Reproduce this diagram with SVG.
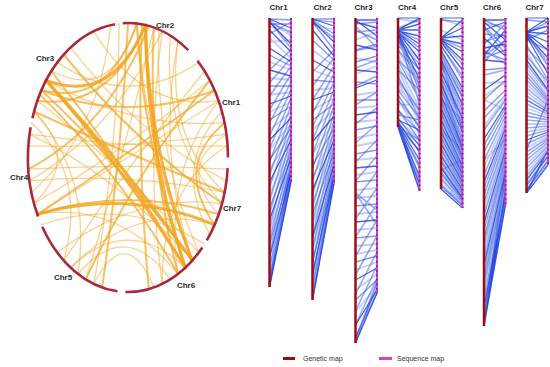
<svg xmlns="http://www.w3.org/2000/svg" width="550" height="367" viewBox="0 0 550 367">
<style>
text{font-family:"Liberation Sans",Arial,sans-serif;font-weight:bold;fill:#2a2a2a}
.lab{font-size:8px;text-anchor:middle}
.leg{font-size:7px;font-weight:normal;fill:#333}
.arc{fill:none;stroke:#a8283c;stroke-width:2.6}
.ck,.cm,.cl{fill:none;stroke:#f2a522;stroke-linecap:round}
.ck{stroke-width:3;stroke-opacity:.85}
.cm{stroke-width:2;stroke-opacity:.7}
.cl{stroke-width:1.3;stroke-opacity:.5}
.bd,.bm,.bl,.bx{fill:none}
.bd{stroke:#1a3cd8;stroke-opacity:.8;stroke-width:1.3}
.bm{stroke:#2448de;stroke-opacity:.55;stroke-width:1.4}
.bl{stroke:#4f72ee;stroke-opacity:.35;stroke-width:1.8}
.bx{stroke:#3158e6;stroke-opacity:.5;stroke-width:1.6}
.gm{stroke:#9e0d0d;stroke-width:2.5}
.sm{stroke:#e23ad0;stroke-width:2}
.sd{stroke:#7a2596;stroke-width:2;stroke-dasharray:1.5 3}
</style>
<rect width="550" height="367" fill="#ffffff"/>

<!-- Circos plot -->
<g id="connectors">
<path class="cl" d="M37.4 100.7Q123 167.1 198.7 252.6"/>
<path class="cl" d="M136.7 23.5Q146.3 149.8 192.3 260.5"/>
<path class="cl" d="M51.4 71Q111 102.4 136.7 23.5"/>
<path class="cl" d="M46.1 80.4Q131.7 129.5 224.6 122.7"/>
<path class="cl" d="M37.4 214.3Q128 157.5 218.6 100.7"/>
<path class="cl" d="M37.4 214.3Q117.9 200.8 178 274"/>
<path class="cl" d="M226.5 134.2Q175.3 165.9 218.6 214.3"/>
<path class="cl" d="M222 111.5Q172 165.3 209.9 234.6"/>
<path class="cl" d="M119.3 23.5Q117.3 155.6 93.8 283.9"/>
<path class="cl" d="M153.9 27.6Q123.9 155.5 85.7 279.4"/>
<path class="cl" d="M162.2 31.1Q111.9 131.7 29.5 180.8"/>
<path class="cl" d="M170.3 35.6Q162.1 138.5 222 203.5"/>
<path class="cl" d="M178 41Q164.7 137.1 224.6 192.3"/>
<path class="cl" d="M70.6 47.3Q138.3 135.8 226.5 180.8"/>
<path class="cl" d="M34 111.5Q92 175.1 78 274"/>
<path class="cl" d="M31.4 122.7Q87.8 174.6 63.7 260.5"/>
<path class="cl" d="M28.4 145.8Q127.7 148.75 226.5 134.2"/>
<path class="cl" d="M29.5 134.2Q128.3 148.75 227.6 145.8"/>
<path class="cl" d="M28.4 169.2Q128 163.4 227.6 169.2"/>
<path class="cl" d="M78 274Q126.1 217.1 170.3 279.4"/>
<path class="cl" d="M93.8 283.9Q125.9 221.6 153.9 287.4"/>
<path class="cl" d="M70.6 267.7Q128 212.6 185.4 267.7"/>
<path class="cl" d="M63.7 260.5Q131.1 161.6 204.6 71"/>
<path class="cl" d="M162.2 283.9Q145.1 157.5 162.2 31.1"/>
<path class="cl" d="M31.4 192.3Q99.5 133.1 110.6 25"/>
<path class="cl" d="M218.6 100.7Q163.2 172.4 178 274"/>
<path class="cl" d="M227.6 145.8Q161.5 186.2 162.2 283.9"/>
<path class="cl" d="M34 111.5Q81 157.5 34 203.5"/>
<path class="cl" d="M214.6 224.8Q135.3 201.9 70.6 267.7"/>
<path class="cl" d="M222 203.5Q133.8 192.8 57.3 252.6"/>
<path class="cl" d="M158.9 29.6Q153.4 149.3 198.7 252.6"/>
<path class="cl" d="M178 41Q156.6 154.1 192.3 260.5"/>
<path class="cl" d="M209.9 80.4Q125 149.7 34 203.5"/>
<path class="cl" d="M57.3 62.4Q128 110 198.7 62.4"/>
<path class="cl" d="M93.8 31.1Q142.1 111.7 218.6 100.7"/>
<path class="cl" d="M29.5 180.8Q127.5 172 224.6 192.3"/>
<path class="cl" d="M41.4 224.8Q125.5 195.9 204.6 244"/>
<path class="cl" d="M29.5 134.2Q119.5 177.4 192.3 260.5"/>
<path class="cm" d="M41.4 90.3Q122.4 166.5 192.3 260.5"/>
<path class="cm" d="M51.4 71Q123.2 163.4 185.4 267.7"/>
<path class="cm" d="M136.7 23.5Q144.5 151.6 185.4 267.7"/>
<path class="cm" d="M153.9 27.6Q147 154.2 178 274"/>
<path class="cm" d="M41.4 90.3Q108.5 107.2 136.7 23.5"/>
<path class="cm" d="M37.4 100.7Q109.7 110.2 145.4 25"/>
<path class="cm" d="M41.4 90.3Q128 123.9 214.6 90.3"/>
<path class="cm" d="M37.4 214.3Q128 185.9 218.6 214.3"/>
<path class="cm" d="M37.4 214.3Q127 154.9 214.6 90.3"/>
<path class="cm" d="M224.6 122.7Q173.8 165.6 214.6 224.8"/>
<path class="cm" d="M128 23Q121.5 156.4 102.1 287.4"/>
<path class="cm" d="M148.8 25.9Q108.3 127.5 28.4 169.2"/>
<path class="cm" d="M63.7 54.5Q135.4 143.3 222 203.5"/>
<path class="cm" d="M85.7 279.4Q137.9 168.7 209.9 80.4"/>
<path class="cm" d="M39.7 94.4Q118.4 170.9 178 274"/>
<path class="cm" d="M141.9 24.3Q136.7 157.1 148.8 289.1"/>
<path class="cm" d="M34 111.5Q128.7 154.7 224.6 192.3"/>
<path class="ck" d="M46.1 80.4Q123.6 164 192.3 260.5"/>
<path class="ck" d="M46.1 80.4Q121.9 165.8 185.4 267.7"/>
<path class="ck" d="M145.4 25Q146.7 151.9 185.4 267.7"/>
<path class="ck" d="M145.4 25Q148.4 150.1 192.3 260.5"/>
<path class="ck" d="M46.1 80.4Q111.9 105.1 145.4 25"/>
<path class="ck" d="M37.4 214.3Q127 188.5 214.6 224.8"/>
</g>

<g id="chr2-circ"><path class="arc" d="M122.8 23.2A100 134.5 0 0 1 188.2 50.1"/><text class="lab" x="165" y="28">Chr2</text></g>
<g id="chr1-circ"><path class="arc" d="M197.5 60.7A100 134.5 0 0 1 228 157.5"/><text class="lab" x="231" y="105">Chr1</text></g>
<g id="chr7-circ"><path class="arc" d="M227.7 168.1A100 134.5 0 0 1 206.8 240.3"/><text class="lab" x="232" y="211">Chr7</text></g>
<g id="chr6-circ"><path class="arc" d="M202.3 247.5A100 134.5 0 0 1 125.4 292"/><text class="lab" x="186" y="288">Chr6</text></g>
<g id="chr5-circ"><path class="arc" d="M117.5 291.3A100 134.5 0 0 1 42.3 226.8"/><text class="lab" x="63" y="280">Chr5</text></g>
<g id="chr4-circ"><path class="arc" d="M38.1 216.5A100 134.5 0 0 1 30.6 127.2"/><text class="lab" x="19" y="180">Chr4</text></g>
<g id="chr3-circ"><path class="arc" d="M32.4 118.2A100 134.5 0 0 1 115 24.2"/><text class="lab" x="45" y="61">Chr3</text></g>

<!-- Linkage maps -->
<g id="map-chr1" transform="translate(269.5 0)">
<path class="bl" d="M0 20L21.5 36M0 26L21.5 33M0 38L21.5 58M0 42L21.5 40M0 62L21.5 70M0 78L21.5 80M0 95L21.5 92M0 112L21.5 102M0 130L21.5 112M0 150L21.5 124M0 170L21.5 134M0 195L21.5 146M0 232L21.5 164M0 270L21.5 176M0 285L21.5 160"/>
<path class="bx" d="M0 70L21.5 50M0 83L21.5 58M0 96L21.5 66M0 110L21.5 74M0 123L21.5 82M0 136L21.5 90M0 149L21.5 98M0 162L21.5 106M0 175L21.5 114M0 188L21.5 122M0 201L21.5 130M0 214L21.5 138M0 228L21.5 146M0 241L21.5 154M0 254L21.5 162M0 267L21.5 170M0 277L21.5 176M0 283L21.5 180M0 21L21.5 48M0 23L21.5 32"/>
<path class="bm" d="M0 19L21.5 20M0 24L21.5 24M0 34L21.5 22M0 55L21.5 66M0 86L21.5 86M0 120L21.5 106M0 160L21.5 128M0 208L21.5 152M0 245L21.5 168M0 280L21.5 180M0 287L21.5 170"/>
<path class="bd" d="M0 19L21.5 28M0 22L21.5 44M0 30L21.5 52M0 48L21.5 62M0 70L21.5 76M0 104L21.5 96M0 140L21.5 118M0 182L21.5 140M0 220L21.5 158M0 258L21.5 172M0 287L21.5 182"/>
<line class="gm" x1="0" y1="18" x2="0" y2="287"/>
<line class="sm" x1="21.5" y1="18" x2="21.5" y2="182"/><line class="sd" x1="21.5" y1="18" x2="21.5" y2="182"/>
<text class="lab" x="9" y="10">Chr1</text>
</g>
<g id="map-chr2" transform="translate(312.5 0)">
<path class="bl" d="M0 24L21.5 30M0 50L21.5 66M0 70L21.5 78M0 90L21.5 88M0 110L21.5 98M0 130L21.5 110M0 154L21.5 122M0 178L21.5 134M0 202L21.5 146M0 226L21.5 158M0 250L21.5 168M0 286L21.5 180"/>
<path class="bx" d="M0 72L21.5 50M0 86L21.5 58M0 100L21.5 66M0 113L21.5 74M0 127L21.5 82M0 140L21.5 90M0 154L21.5 98M0 168L21.5 106M0 181L21.5 114M0 195L21.5 122M0 208L21.5 130M0 222L21.5 138M0 236L21.5 146M0 249L21.5 154M0 263L21.5 162M0 276L21.5 170M0 286L21.5 176M0 295L21.5 181M0 20L21.5 22M0 22L21.5 38"/>
<path class="bm" d="M0 19L21.5 19M0 20L21.5 34M0 22L21.5 50M0 40L21.5 60M0 80L21.5 82M0 120L21.5 104M0 166L21.5 128M0 214L21.5 152M0 262L21.5 172M0 300L21.5 178"/>
<path class="bd" d="M0 19L21.5 26M0 21L21.5 42M0 30L21.5 56M0 60L21.5 72M0 100L21.5 92M0 142L21.5 116M0 190L21.5 140M0 238L21.5 164M0 274L21.5 176M0 300L21.5 184"/>
<line class="gm" x1="0" y1="18" x2="0" y2="300"/>
<line class="sm" x1="21.5" y1="18" x2="21.5" y2="184"/><line class="sd" x1="21.5" y1="18" x2="21.5" y2="184"/>
<text class="lab" x="10" y="10">Chr2</text>
</g>
<g id="map-chr3" transform="translate(355.5 0)">
<path class="bl" d="M0 40L21.5 32M0 58L21.5 62M0 74L21.5 66M0 95L21.5 92M0 108L21.5 106M0 122L21.5 120M0 138L21.5 134M0 146L21.5 142M0 160L21.5 158M0 175L21.5 172M0 190L21.5 188M0 198L21.5 196M0 214L21.5 212M0 230L21.5 228M0 246L21.5 244M0 254L21.5 250M0 270L21.5 262M0 290L21.5 274M0 312L21.5 286M0 340L21.5 280"/>
<path class="bx" d="M0 32L21.5 30M0 51L21.5 46M0 68L21.5 60M0 86L21.5 76M0 105L21.5 92M0 124L21.5 108M0 143L21.5 124M0 162L21.5 140M0 181L21.5 156M0 200L21.5 172M0 219L21.5 188M0 237L21.5 204M0 256L21.5 220M0 275L21.5 236M0 294L21.5 252M0 311L21.5 266M0 325L21.5 278M0 337L21.5 288M0 193L21.5 210M0 193L21.5 225M0 26L21.5 48"/>
<path class="bm" d="M0 24L21.5 22M0 30L21.5 40M0 50L21.5 44M0 62L21.5 56M0 82L21.5 84M0 100L21.5 100M0 130L21.5 126M0 154L21.5 150M0 182L21.5 180M0 206L21.5 204M0 238L21.5 236M0 262L21.5 256M0 300L21.5 280M0 338L21.5 293M0 343L21.5 282"/>
<path class="bd" d="M0 20L21.5 20M0 22L21.5 28M0 20L21.5 36M0 45L21.5 50M0 70L21.5 72M0 88L21.5 80M0 115L21.5 112M0 168L21.5 166M0 222L21.5 220M0 280L21.5 268M0 325L21.5 290M0 343L21.5 293"/>
<line class="gm" x1="0" y1="18" x2="0" y2="343"/>
<line class="sm" x1="21.5" y1="18" x2="21.5" y2="293"/><line class="sd" x1="21.5" y1="18" x2="21.5" y2="293"/>
<text class="lab" x="8" y="10">Chr3</text>
</g>
<g id="map-chr4" transform="translate(398 0)">
<path class="bl" d="M0 19L21.5 22M0 40L21.5 60M0 50L21.5 86M0 55L21.5 96M0 65L21.5 108M0 70L21.5 114M0 82L21.5 122M0 88L21.5 110M0 100L21.5 134M0 105L21.5 104M0 120L21.5 140"/>
<path class="bx" d="M0 127L21.5 140M0 127L21.5 150M0 126L21.5 165M0 125L21.5 180M0 127L21.5 188M0 124L21.5 145M0 80L21.5 110M0 90L21.5 118M0 100L21.5 126M0 110L21.5 132M0 60L21.5 80M0 70L21.5 90M0 50L21.5 75M0 42L21.5 64M0 31L21.5 40M0 31L21.5 48M0 34L21.5 86"/>
<path class="bm" d="M0 18L21.5 18M0 28L21.5 20M0 35L21.5 92M0 36L21.5 104M0 45L21.5 70M0 60L21.5 100M0 76L21.5 118M0 95L21.5 128M0 110L21.5 140M0 118L21.5 146M0 125L21.5 168M0 115L21.5 120"/>
<path class="bd" d="M0 30L21.5 18M0 30L21.5 24M0 30L21.5 30M0 31L21.5 36M0 30L21.5 44M0 32L21.5 52M0 32L21.5 60M0 33L21.5 70M0 34L21.5 80M0 120L21.5 130M0 122L21.5 152M0 124L21.5 160M0 126L21.5 176M0 127L21.5 191M0 127L21.5 184"/>
<line class="gm" x1="0" y1="18" x2="0" y2="127"/>
<line class="sm" x1="21.5" y1="18" x2="21.5" y2="191"/><line class="sd" x1="21.5" y1="18" x2="21.5" y2="191"/>
<text class="lab" x="9" y="10">Chr4</text>
</g>
<g id="map-chr5" transform="translate(441 0)">
<path class="bl" d="M0 19L21.5 26M0 80L21.5 150M0 170L21.5 160M0 180L21.5 204M0 189L21.5 200M0 100L21.5 120M0 130L21.5 150M0 30L21.5 40"/>
<path class="bx" d="M0 46L21.5 76M0 52L21.5 92M0 58L21.5 98M0 64L21.5 106M0 70L21.5 114M0 76L21.5 120M0 82L21.5 128M0 88L21.5 136M0 94L21.5 142M0 100L21.5 148M0 106L21.5 152M0 112L21.5 158M0 118L21.5 162M0 124L21.5 168M0 130L21.5 172M0 136L21.5 176M0 142L21.5 180M0 148L21.5 184M0 154L21.5 188M0 160L21.5 192M0 166L21.5 196M0 172L21.5 199M0 178L21.5 202M0 184L21.5 205M0 39L21.5 48M0 41L21.5 64"/>
<path class="bm" d="M0 18L21.5 18M0 20L21.5 22M0 45L21.5 80M0 55L21.5 96M0 66L21.5 110M0 78L21.5 124M0 90L21.5 140M0 102L21.5 150M0 114L21.5 160M0 126L21.5 170M0 138L21.5 178M0 150L21.5 186M0 162L21.5 194M0 174L21.5 200M0 186L21.5 206M0 60L21.5 130"/>
<path class="bd" d="M0 38L21.5 20M0 38L21.5 28M0 38L21.5 36M0 39L21.5 44M0 40L21.5 52M0 40L21.5 60M0 42L21.5 70M0 50L21.5 88M0 60L21.5 104M0 72L21.5 118M0 84L21.5 132M0 96L21.5 146M0 108L21.5 156M0 120L21.5 166M0 132L21.5 174M0 144L21.5 182M0 156L21.5 190M0 168L21.5 198M0 189L21.5 208"/>
<line class="gm" x1="0" y1="18" x2="0" y2="189"/>
<line class="sm" x1="21.5" y1="18" x2="21.5" y2="208"/><line class="sd" x1="21.5" y1="18" x2="21.5" y2="208"/>
<text class="lab" x="8" y="10">Chr5</text>
</g>
<g id="map-chr6" transform="translate(484 0)">
<path class="bl" d="M0 24L21.5 26M0 50L21.5 64M0 83L21.5 82M0 96L21.5 82M0 126L21.5 98M0 167L21.5 120M0 208L21.5 142M0 251L21.5 165M0 294L21.5 188M0 326L21.5 180M0 100L21.5 110M0 160L21.5 140"/>
<path class="bx" d="M0 75L21.5 70M0 100L21.5 80M0 118L21.5 95M0 130L21.5 100M0 145L21.5 108M0 160L21.5 116M0 175L21.5 124M0 188L21.5 132M0 202L21.5 140M0 215L21.5 146M0 230L21.5 154M0 244L21.5 162M0 258L21.5 168M0 272L21.5 176M0 286L21.5 184M0 300L21.5 192M0 312L21.5 198M0 322L21.5 202M0 28L21.5 54M0 42L21.5 34M0 56L21.5 40"/>
<path class="bm" d="M0 20L21.5 30M0 26L21.5 48M0 34L21.5 36M0 44L21.5 24M0 52L21.5 60M0 58L21.5 50M0 62L21.5 40M0 70L21.5 68M0 111L21.5 90M0 152L21.5 112M0 195L21.5 135M0 238L21.5 158M0 279L21.5 180M0 317L21.5 200M0 320L21.5 170"/>
<path class="bd" d="M0 20L21.5 20M0 22L21.5 40M0 30L21.5 22M0 38L21.5 56M0 48L21.5 44M0 55L21.5 30M0 60L21.5 62M0 90L21.5 75M0 139L21.5 105M0 182L21.5 128M0 223L21.5 150M0 265L21.5 172M0 307L21.5 195M0 326L21.5 205M0 326L21.5 190"/>
<line class="gm" x1="0" y1="18" x2="0" y2="326"/>
<line class="sm" x1="21.5" y1="18" x2="21.5" y2="205"/><line class="sd" x1="21.5" y1="18" x2="21.5" y2="205"/>
<text class="lab" x="8" y="10">Chr6</text>
</g>
<g id="map-chr7" transform="translate(526.5 0)">
<path class="bl" d="M0 52L21.5 86M0 68L21.5 96M0 84L21.5 104M0 92L21.5 108M0 108L21.5 116M0 124L21.5 124M0 132L21.5 128M0 148L21.5 136M0 164L21.5 144M0 172L21.5 148"/>
<path class="bx" d="M0 40L21.5 50M0 48L21.5 70M0 56L21.5 82M0 64L21.5 92M0 72L21.5 98M0 80L21.5 102M0 88L21.5 106M0 96L21.5 110M0 104L21.5 114M0 112L21.5 118M0 120L21.5 122M0 128L21.5 126M0 136L21.5 130M0 144L21.5 134M0 152L21.5 138M0 160L21.5 142M0 168L21.5 146M0 176L21.5 150M0 184L21.5 156M0 190L21.5 162M0 33L21.5 22M0 35L21.5 62"/>
<path class="bm" d="M0 18L21.5 18M0 20L21.5 22M0 34L21.5 66M0 40L21.5 30M0 45L21.5 80M0 76L21.5 100M0 116L21.5 120M0 156L21.5 140M0 186L21.5 156M0 190L21.5 160M0 150L21.5 100"/>
<path class="bd" d="M0 32L21.5 18M0 32L21.5 26M0 32L21.5 34M0 33L21.5 42M0 33L21.5 50M0 34L21.5 58M0 36L21.5 74M0 60L21.5 90M0 100L21.5 112M0 140L21.5 132M0 180L21.5 152M0 193L21.5 165M0 193L21.5 150"/>
<line class="gm" x1="0" y1="18" x2="0" y2="193"/>
<line class="sm" x1="21.5" y1="18" x2="21.5" y2="165"/><line class="sd" x1="21.5" y1="18" x2="21.5" y2="165"/>
<text class="lab" x="8" y="10">Chr7</text>
</g>

<g id="legend">
<line x1="283" y1="358.5" x2="295" y2="358.5" stroke="#9e0d0d" stroke-width="3"/>
<text class="leg" x="303" y="361">Genetic map</text>
<line x1="379" y1="358.5" x2="392" y2="358.5" stroke="#e23ad0" stroke-width="3"/>
<text class="leg" x="397" y="361">Sequence map</text>
</g>
</svg>
